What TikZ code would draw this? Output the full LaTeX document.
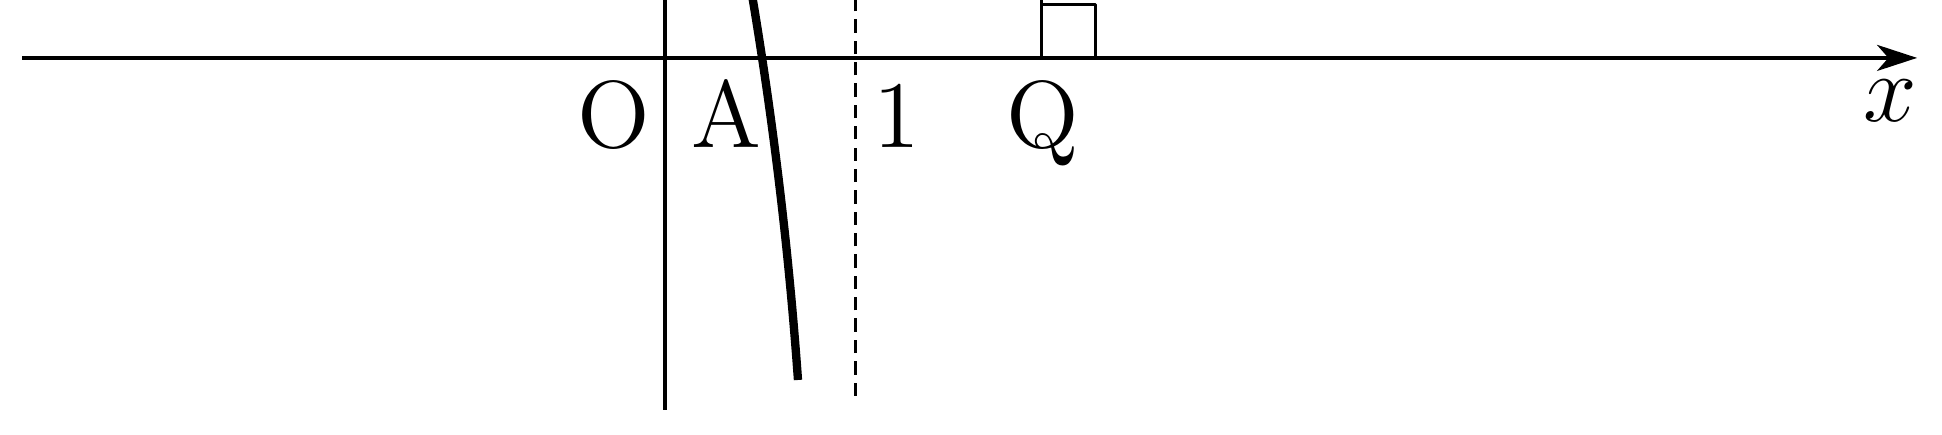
\documentclass[tikz,border=0pt]{standalone}
\usepackage{amsmath,amssymb}
\usepackage{tikz}
\usetikzlibrary{arrows.meta}
\begin{document}
\begin{tikzpicture}[>={Stealth[length=6pt, width=3.9pt, inset=1.7pt]}, line join=round, font=\fontsize{14.25}{17}\selectfont, x=1cm, y=1cm]
	% Khung hình
	\useasboundingbox (-3.5,-1.984) rectangle (6.721,0.305);
	\clip (-3.5,-1.984) rectangle (6.721,0.305);
	% Các điểm mốc
	\coordinate (O) at (0,0);
	\coordinate (xL) at (-3.384,0);
	\coordinate (xR) at (6.59,0);
	\coordinate (yB) at (0,-1.853);
	\coordinate (yT) at (0,0.6);
	\coordinate (mot) at (1,0);
	\coordinate (motB) at (1,-1.779);
	\coordinate (motT) at (1,0.6);
	\coordinate (Q) at (1.984,0);
	% Hệ trục tọa độ
	\draw[->, line width=0.52pt] (xL) -- (xR);
	\draw[line width=0.52pt] (yB) -- (yT);
	% Đường gióng x = 1
	\draw[dashed, line width=0.45pt, dash pattern=on 2pt off 1.2pt] (motB) -- (motT);
	% Góc vuông tại Q
	\draw[line width=0.45pt] (Q) -- ++(0,0.6);
	\draw[line width=0.45pt] (Q) ++(0,0.279) -- ++(0.284,0) -- ++(0,-0.279);
	% Đồ thị
	\draw[line width=1.25pt, line cap=butt, samples=60, domain=-1.695:0.45] plot ({0.511-0.1518*\x-0.0238*\x*\x}, \x);
	% Nhãn
	\node[anchor=base] (lO) at (-0.268,-0.474) {O};
	\node[anchor=base] (lA) at (0.321,-0.474) {A};
	\node[anchor=base] (l1) at (1.220,-0.474) {1};
	\node[anchor=base] (lQ) at (1.990,-0.474) {Q};
	\node[anchor=base] (lx) at (6.45,-0.337) {$x$};
\end{tikzpicture}
\end{document}
